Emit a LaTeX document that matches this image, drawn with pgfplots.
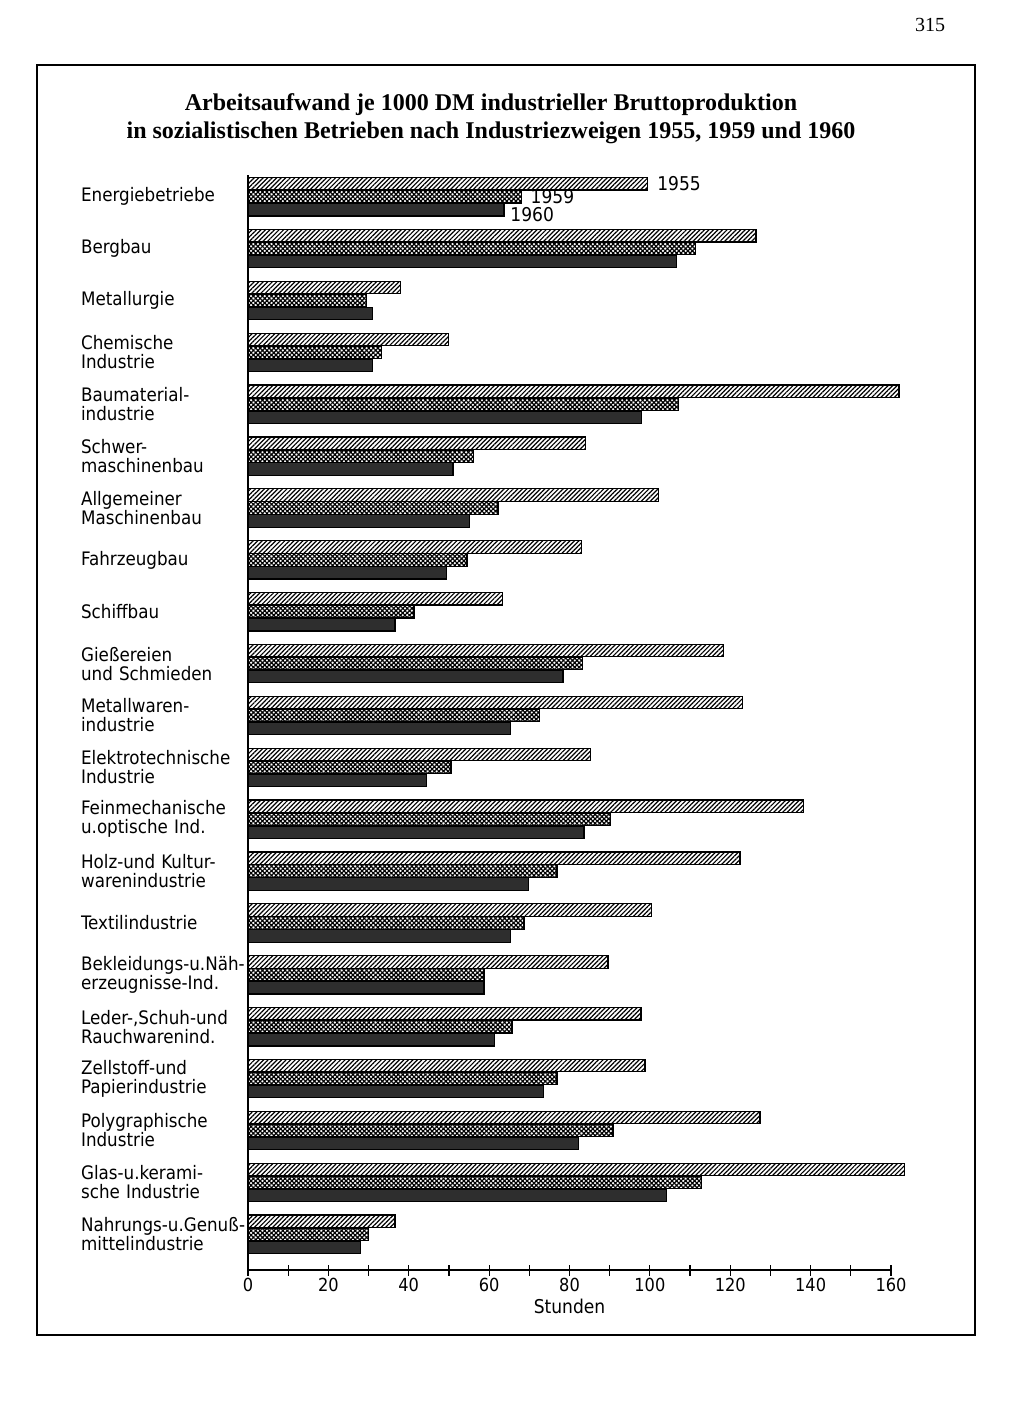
\documentclass[border=0pt]{standalone}
\usepackage{fontspec}
\setmainfont{Liberation Serif}
\newfontfamily\lblfont{DejaVu Sans Condensed}
\newfontfamily\titlefont{Liberation Serif}
\usepackage{pgfplots}
\pgfplotsset{compat=1.18}
\usetikzlibrary{patterns.meta}

% values read off the chart, hours per 1000 DM; y = 20 is the top group
\pgfplotstableread{
y  a55   a59   a60
20 99.5  68.0  63.7
19 126.4 111.4 106.7
18 38.0  29.4  31.0
17 49.8  33.3  31.0
16 162.0 107.2 98.0
15 84.0  56.2  51.0
14 102.2 62.2  55.2
13 83.0  54.5  49.3
12 63.4  41.3  36.6
11 118.4 83.3  78.4
10 123.1 72.6  65.4
9  85.3  50.5  44.5
8  138.3 90.3  83.6
7  122.4 76.9  69.7
6  100.5 68.7  65.4
5  89.6  58.7  58.7
4  97.8  65.7  61.4
3  98.8  76.9  73.6
2  127.4 90.8  82.3
1  163.4 112.9 104.2
0  36.6  29.9  27.9
}\datatab

\tikzset{lbl/.style={font=\lblfont\fontsize{9.5}{9.5}\selectfont, inner sep=0pt}}

\begin{document}
\begin{tikzpicture}
\useasboundingbox (0,0) rectangle (512pt,-711.5pt);

% page number and frame
\node[font=\fontsize{10}{12}\selectfont] at (465pt,-12.5pt) {315};
\draw[line width=1.4pt] (18pt,-32.5pt) -- (488pt,-32.5pt);
\draw[line width=1.4pt] (18pt,-667.5pt) -- (488pt,-667.5pt);
\draw[line width=0.6pt] (18.5pt,-32.5pt) -- (18.5pt,-667.5pt);
\draw[line width=0.6pt] (487.5pt,-32.5pt) -- (487.5pt,-667.5pt);

\node[font=\titlefont\bfseries\fontsize{12}{14}\selectfont, align=center]
  at (245.5pt,-59.5pt)
  {Arbeitsaufwand je 1000 DM industrieller Bruttoproduktion\\
   in sozialistischen Betrieben nach Industriezweigen 1955, 1959 und 1960};

\begin{axis}[
    at={(124pt,-635pt)}, anchor=south west,
    scale only axis,
    width=321.5pt, height=547.5pt,
    xbar, bar width=0.24,
    xmin=0, xmax=160, ymin=-0.69, ymax=20.42,
    enlargelimits=false, clip=false,
    axis x line*=bottom, axis y line*=left,
    axis line style={line width=0.8pt, -},
    xtick={0,20,...,160}, minor x tick num=1,
    tick align=center,
    major tick length=5.5pt, minor tick length=5.5pt,
    x tick style={black, line width=0.6pt},
    ytick={0,...,20}, y tick style={draw=none},
    yticklabels={
      {\mbox{Nahrungs-u.Genuß-}\\mittelindustrie},
      {Glas-u.kerami-\\sche Industrie},
      {Polygraphische\\Industrie},
      {Zellstoff-und\\Papierindustrie},
      {\mbox{Leder-,Schuh-und}\\Rauchwarenind.},
      {\mbox{Bekleidungs-u.Näh-}\\\mbox{erzeugnisse-Ind.}},
      {Textilindustrie},
      {\mbox{Holz-und Kultur-}\\warenindustrie},
      {Feinmechanische\\u.optische Ind.},
      {\mbox{Elektrotechnische}\\Industrie},
      {Metallwaren-\\industrie},
      {Gießereien\\und Schmieden},
      {Schiffbau},
      {Fahrzeugbau},
      {Allgemeiner\\Maschinenbau},
      {Schwer-\\maschinenbau},
      {Baumaterial-\\industrie},
      {Chemische\\Industrie},
      {Metallurgie},
      {Bergbau},
      {Energiebetriebe}},
    yticklabel style={font=\lblfont\fontsize{9.3}{9.5}\selectfont,
      anchor=east, inner sep=0pt, text width=79pt, align=left, xshift=-1.5pt},
    xticklabel style={font=\lblfont\fontsize{9}{9}\selectfont, yshift=2pt},
    /pgf/number format/assume math mode=true,
    xlabel={Stunden},
    xlabel style={font=\lblfont\fontsize{9.5}{9.5}\selectfont, yshift=3.5pt},
]
\addplot[bar shift=0.25, draw=black, line width=0.6pt,
  pattern={Lines[angle=45,distance=1.6pt,line width=0.6pt]}, pattern color=black]
  table[x=a55, y=y] {\datatab};
\addplot[bar shift=0, draw=black, line width=0.6pt,
  pattern={Hatch[angle=45,distance=1.6pt,line width=0.6pt]}, pattern color=black]
  table[x=a59, y=y] {\datatab};
\addplot[bar shift=-0.25, draw=black, line width=0.6pt, fill=black!82]
  table[x=a60, y=y] {\datatab};

\node[lbl, anchor=west, xshift=4.5pt] at (axis cs:99.5,20.25) {1955};
\node[lbl, anchor=west, xshift=4.5pt, yshift=0.3pt] at (axis cs:68,20) {1959};
\node[lbl, anchor=west, xshift=3pt, yshift=-2.2pt] at (axis cs:63.7,19.75) {1960};
\end{axis}
\end{tikzpicture}
\end{document}
